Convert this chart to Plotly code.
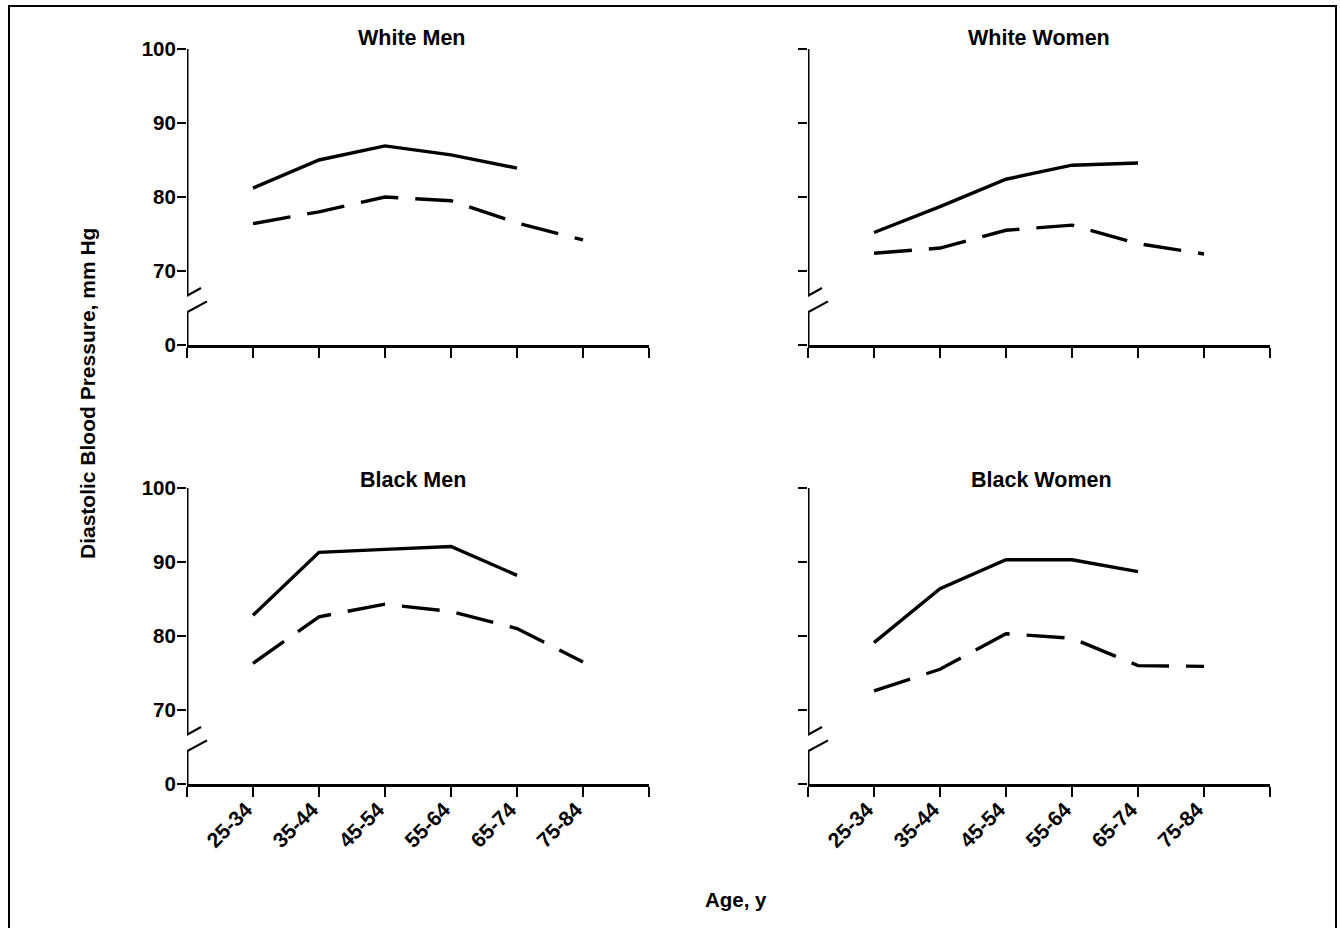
import plotly.graph_objects as go

# ---------------- data ----------------
ages = ["25-34", "35-44", "45-54", "55-64", "65-74", "75-84"]
y_tickvals = [60, 70, 80, 90, 100]
y_ticktext = ["0", "70", "80", "90", "100"]

white_men_solid = [81.2, 85.0, 86.9, 85.7, 83.9, None]
white_men_dashed = [76.4, 78.0, 80.0, 79.5, 76.5, 74.2]
white_women_solid = [75.2, 78.7, 82.4, 84.3, 84.6, None]
white_women_dashed = [72.4, 73.1, 75.5, 76.2, 73.7, 72.3]
black_men_solid = [82.8, 91.3, 91.7, 92.1, 88.2, None]
black_men_dashed = [76.3, 82.6, 84.3, 83.3, 81.0, 76.5]
black_women_solid = [79.1, 86.4, 90.3, 90.3, 88.7, None]
black_women_dashed = [72.6, 75.5, 80.3, 79.7, 76.0, 75.9]

panel_titles = ["White Men", "White Women", "Black Men", "Black Women"]
panels = [
    (white_men_solid, white_men_dashed),
    (white_women_solid, white_women_dashed),
    (black_men_solid, black_men_dashed),
    (black_women_solid, black_women_dashed),
]

# ---------------- layout geometry ----------------
W, H = 1340, 928
FONT = "Liberation Sans, Arial, Helvetica, sans-serif"

def px_x(p):
    return p / W

def px_y(p):
    return 1 - p / H

x_domains = [[px_x(187), px_x(649)], [px_x(808), px_x(1270)]]
y_domains = [[px_y(345), px_y(49)], [px_y(784), px_y(488)]]

xpos = list(range(len(ages)))
x_tickvals = [-1] + xpos + [len(ages)]
x_ticktext = [""] + ages + [""]

fig = go.Figure()
layout = dict(
    width=W, height=H,
    margin=dict(l=0, r=0, t=0, b=0, pad=0, autoexpand=False),
    paper_bgcolor="white", plot_bgcolor="white",
    showlegend=False,
    font=dict(family=FONT, color="black", size=20),
)

shapes = []
annotations = []
title_shift = [11, 11, 8, 8]
title_xdom = [(411.5 - 187) / 462, (1039 - 808) / 462, (412.5 - 187) / 462, (1041 - 808) / 462]
ytickfont = dict(family=FONT, size=20.5, color="black", weight="bold")
xtickfont = dict(family=FONT, size=21, color="black", weight="bold")

for i, (solid, dashed) in enumerate(panels):
    n = i + 1
    xa = "x" if n == 1 else f"x{n}"
    ya = "y" if n == 1 else f"y{n}"
    col = i % 2
    row = i // 2
    fig.add_trace(go.Scatter(x=xpos, y=solid, mode="lines", name="solid",
                             line=dict(color="black", width=3.4),
                             xaxis=xa, yaxis=ya, hoverinfo="skip"))
    fig.add_trace(go.Scatter(x=xpos, y=dashed, mode="lines", name="dashed",
                             line=dict(color="black", width=3.4, dash="38px,17px"),
                             xaxis=xa, yaxis=ya, hoverinfo="skip"))
    layout["xaxis" if n == 1 else f"xaxis{n}"] = dict(
        domain=x_domains[col], anchor=ya, range=[-1, len(ages)],
        tickmode="array", tickvals=x_tickvals, ticktext=x_ticktext,
        showticklabels=(row == 1), tickangle=-45, automargin=False,
        ticklabelstandoff=-8, ticklabelshift=-7,
        ticks="outside", ticklen=10, tickwidth=2.4, tickcolor="black",
        showline=True, linewidth=3, linecolor="black",
        showgrid=False, zeroline=False, fixedrange=True,
        tickfont=xtickfont,
    )
    layout["yaxis" if n == 1 else f"yaxis{n}"] = dict(
        domain=y_domains[row], anchor=xa, range=[60, 100],
        tickmode="array", tickvals=y_tickvals, ticktext=y_ticktext,
        showticklabels=(col == 0), automargin=False,
        ticklabelstandoff=-3,
        ticks="outside", ticklen=9, tickwidth=2.4, tickcolor="black",
        showline=False, showgrid=False, zeroline=False, fixedrange=True,
        tickfont=ytickfont,
    )
    # broken y axis line
    shapes.append(dict(type="line", xref=xa, yref=ya, x0=-1, x1=-1, y0=60, y1=64.4,
                       line=dict(color="black", width=3)))
    shapes.append(dict(type="line", xref=xa, yref=ya, x0=-1, x1=-1, y0=66.7, y1=100,
                       line=dict(color="black", width=3)))
    # break slashes
    shapes.append(dict(type="line", xref=xa, yref=ya, xsizemode="pixel", xanchor=-1,
                       x0=-26, x1=14, y0=64.7, y1=67.7,
                       line=dict(color="black", width=2.2)))
    shapes.append(dict(type="line", xref=xa, yref=ya, xsizemode="pixel", xanchor=-1,
                       x0=-19, x1=20, y0=63.0, y1=65.9,
                       line=dict(color="black", width=2.2)))
    annotations.append(dict(text=panel_titles[i], xref=f"{xa} domain", yref=f"{ya} domain",
                            x=title_xdom[i], y=1, yshift=title_shift[i], yanchor="middle",
                            xanchor="center", showarrow=False,
                            font=dict(family=FONT, size=21.5, color="black", weight="bold")))

annotations.append(dict(text="Diastolic Blood Pressure, mm Hg", xref="paper", yref="paper",
                        x=px_x(88), y=px_y(394), textangle=-90, showarrow=False,
                        xanchor="center", yanchor="middle",
                        font=dict(family=FONT, size=21, color="black", weight="bold")))
annotations.append(dict(text="Age, y", xref="paper", yref="paper",
                        x=px_x(736), y=px_y(899), showarrow=False,
                        xanchor="center", yanchor="middle",
                        font=dict(family=FONT, size=20.5, color="black", weight="bold")))

# outer frame
shapes.append(dict(type="rect", xref="paper", yref="paper",
                   x0=px_x(9), x1=px_x(1336), y0=-0.01, y1=px_y(6),
                   line=dict(color="black", width=2)))

layout["shapes"] = shapes
layout["annotations"] = annotations
fig.update_layout(**layout)
fig.write_html(
    "out.html",
    config={"displayModeBar": False, "staticPlot": True},
    post_script="document.body.style.margin='0';document.body.style.overflow='hidden';",
)
